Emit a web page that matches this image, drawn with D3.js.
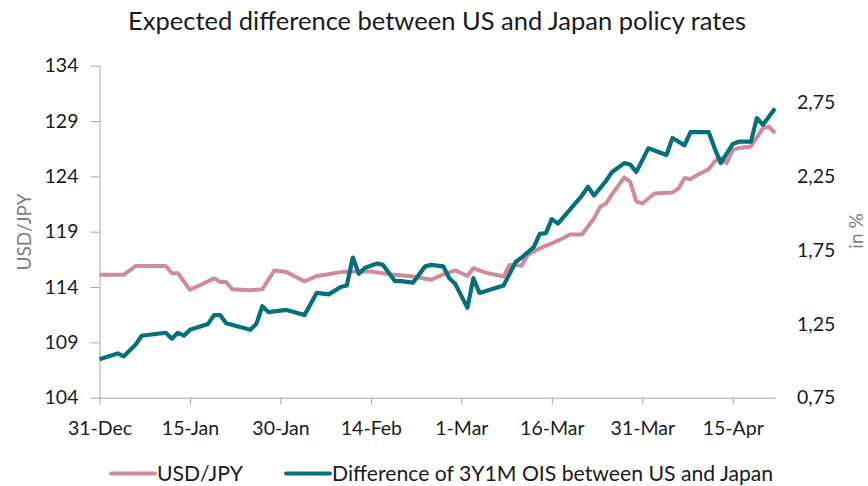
<!DOCTYPE html>
<html>
<head>
<meta charset="utf-8">
<script src="https://cdn.jsdelivr.net/npm/d3@7"></script>
<style>
    body { margin: 0; background: #ffffff; }
    text { font-family: Lato, "Noto Sans", sans-serif; }
</style>
</head>
<body>
<div id="chart"></div>
<script>
// USD/JPY (left axis)
let usdJpyDates = ["2021-12-31", "2022-01-04", "2022-01-06", "2022-01-11", "2022-01-12", "2022-01-13",
    "2022-01-15", "2022-01-17", "2022-01-19", "2022-01-20", "2022-01-21", "2022-01-22", "2022-01-25",
    "2022-01-27", "2022-01-29", "2022-01-31", "2022-02-02", "2022-02-03", "2022-02-05", "2022-02-07",
    "2022-02-09", "2022-02-11", "2022-02-14", "2022-02-16", "2022-02-18", "2022-02-21", "2022-02-24",
    "2022-02-26", "2022-02-28", "2022-03-02", "2022-03-03", "2022-03-05", "2022-03-08", "2022-03-09",
    "2022-03-11", "2022-03-12", "2022-03-14", "2022-03-16", "2022-03-18", "2022-03-19", "2022-03-21",
    "2022-03-23", "2022-03-24", "2022-03-25", "2022-03-26", "2022-03-28", "2022-03-29", "2022-03-30",
    "2022-03-31", "2022-04-02", "2022-04-05", "2022-04-06", "2022-04-07", "2022-04-08", "2022-04-09",
    "2022-04-11", "2022-04-12", "2022-04-13", "2022-04-14", "2022-04-15", "2022-04-16", "2022-04-18",
    "2022-04-20", "2022-04-21", "2022-04-22"]
let usdJpy = [115.1, 115.1, 115.9, 115.9, 115.25, 115.25,
    113.75, 114.25, 114.8, 114.45, 114.45, 113.8, 113.7,
    113.8, 115.5, 115.35, 114.8, 114.5, 115.0, 115.15,
    115.35, 115.4, 115.4, 115.25, 115.1, 114.95, 114.65,
    115.15, 115.5, 115.0, 115.7, 115.3, 114.95, 116.0,
    115.95, 116.9, 117.5, 117.95, 118.45, 118.75, 118.75,
    120.2, 121.25, 121.55, 122.4, 123.9, 123.5, 121.75,
    121.55, 122.45, 122.55, 122.9, 123.85, 123.75, 124.1,
    124.65, 125.35, 125.65, 125.2, 126.4, 126.55, 126.7,
    128.35, 128.5, 127.9]

// Difference of 3Y1M OIS, US minus Japan, in % (right axis)
let oisDates = ["2021-12-31", "2022-01-03", "2022-01-04", "2022-01-05", "2022-01-06", "2022-01-07",
    "2022-01-11", "2022-01-12", "2022-01-13", "2022-01-14", "2022-01-15", "2022-01-18", "2022-01-19",
    "2022-01-20", "2022-01-21", "2022-01-25", "2022-01-26", "2022-01-27", "2022-01-28", "2022-01-31",
    "2022-02-03", "2022-02-05", "2022-02-07", "2022-02-09", "2022-02-10", "2022-02-11", "2022-02-12",
    "2022-02-13", "2022-02-15", "2022-02-16", "2022-02-18", "2022-02-19", "2022-02-21", "2022-02-23",
    "2022-02-24", "2022-02-26", "2022-02-27", "2022-02-28", "2022-03-02", "2022-03-03", "2022-03-04",
    "2022-03-08", "2022-03-10", "2022-03-11", "2022-03-13", "2022-03-14", "2022-03-15", "2022-03-16",
    "2022-03-17", "2022-03-21", "2022-03-22", "2022-03-23", "2022-03-25", "2022-03-26", "2022-03-28",
    "2022-03-29", "2022-03-30", "2022-04-01", "2022-04-04", "2022-04-05", "2022-04-07", "2022-04-08",
    "2022-04-11", "2022-04-12", "2022-04-13", "2022-04-15", "2022-04-16", "2022-04-18", "2022-04-19",
    "2022-04-20", "2022-04-22"]
let oisDiff = [1.01, 1.05, 1.03, 1.07, 1.11, 1.17,
    1.19, 1.15, 1.19, 1.17, 1.21, 1.25, 1.31,
    1.31, 1.255, 1.21, 1.25, 1.37, 1.33, 1.345,
    1.31, 1.46, 1.45, 1.50, 1.51, 1.70, 1.59,
    1.63, 1.66, 1.65, 1.54, 1.54, 1.53, 1.64,
    1.65, 1.64, 1.56, 1.52, 1.36, 1.56, 1.46,
    1.51, 1.67, 1.70, 1.77, 1.86, 1.865, 1.96,
    1.93, 2.12, 2.18, 2.12, 2.22, 2.28, 2.34,
    2.33, 2.28, 2.44, 2.395, 2.51, 2.46, 2.55,
    2.55, 2.44, 2.34, 2.47, 2.485, 2.485, 2.645,
    2.60, 2.71]

let xTickDates = ["2021-12-31", "2022-01-15", "2022-01-30", "2022-02-14", "2022-03-01",
    "2022-03-16", "2022-03-31", "2022-04-15"]
let leftTicks = [104, 109, 114, 119, 124, 129, 134]
let rightTicks = [0.75, 1.25, 1.75, 2.25, 2.75]

let seriesNames = ["USD/JPY", "Difference of 3Y1M OIS between US and Japan"]

let width = 868,
    height = 486

let plot = { left: 99.5, right: 775, top: 65.7, bottom: 397.7 }

let pink = "#cf8a9b",
    teal = "#04707a",
    axisColor = "#a6a6a6",
    labelColor = "#1a1a1a",
    titleColor = "#7f7f7f"

let parseDate = d3.timeParse("%Y-%m-%d")
let fmtDate = d3.timeFormat("%-d-%b")
let commaFmt = d3.formatLocale({ decimal: ",", thousands: ".", grouping: [3], currency: ["", ""] }).format(".2f")

let usdJpyData = usdJpyDates.map(function (d, i) {
    return { date: parseDate(d), value: usdJpy[i] }
})
let oisData = oisDates.map(function (d, i) {
    return { date: parseDate(d), value: oisDiff[i] }
})

let xScale = d3.scaleTime()
    .domain([parseDate("2021-12-31"), parseDate("2022-04-22")])
    .range([plot.left, plot.right])

let yLeft = d3.scaleLinear()
    .domain([104, 134])
    .range([plot.bottom, plot.top])

let yRight = d3.scaleLinear()
    .domain([0.75, 3.0])
    .range([plot.bottom, plot.top])

let svg = d3.select("#chart")
    .append("svg")
    .attr("width", width)
    .attr("height", height)

// title
svg.append("text")
    .attr("x", 437)
    .attr("y", 30)
    .attr("text-anchor", "middle")
    .attr("font-size", 25.5)
    .attr("fill", labelColor)
    .text("Expected difference between US and Japan policy rates")

// x axis
let xAxis = d3.axisBottom(xScale)
    .tickValues(xTickDates.map(parseDate))
    .tickFormat(fmtDate)
    .tickSizeInner(7)
    .tickSizeOuter(0)
    .tickPadding(16)

svg.append("g")
    .attr("transform", "translate(0," + plot.bottom + ")")
    .call(xAxis)

// left axis
let yAxisLeft = d3.axisLeft(yLeft)
    .tickValues(leftTicks)
    .tickSizeInner(9)
    .tickSizeOuter(0)
    .tickPadding(12)

svg.append("g")
    .attr("transform", "translate(" + plot.left + ",0)")
    .call(yAxisLeft)

// right axis, labels only
let yAxisRight = d3.axisRight(yRight)
    .tickValues(rightTicks)
    .tickFormat(commaFmt)
    .tickSize(0)
    .tickPadding(22)

let gyr = svg.append("g")
    .attr("transform", "translate(" + plot.right + ",0)")
    .call(yAxisRight)
gyr.select(".domain").remove()

svg.selectAll(".domain, .tick line")
    .attr("stroke", axisColor)
    .attr("stroke-width", 1)
svg.selectAll(".tick text")
    .attr("font-size", 19.5)
    .attr("font-family", "Lato, sans-serif")
    .attr("fill", labelColor)

// axis titles
svg.append("text")
    .attr("transform", "translate(31,232) rotate(-90)")
    .attr("text-anchor", "middle")
    .attr("font-size", 19)
    .attr("fill", titleColor)
    .text("USD/JPY")

svg.append("text")
    .attr("transform", "translate(863,231) rotate(-90)")
    .attr("text-anchor", "middle")
    .attr("font-size", 19)
    .attr("fill", titleColor)
    .text("in %")

// lines
let lineLeft = d3.line()
    .x(function (d) { return xScale(d.date) })
    .y(function (d) { return yLeft(d.value) })

let lineRight = d3.line()
    .x(function (d) { return xScale(d.date) })
    .y(function (d) { return yRight(d.value) })

svg.append("path")
    .datum(usdJpyData)
    .attr("d", lineLeft)
    .attr("fill", "none")
    .attr("stroke", pink)
    .attr("stroke-width", 4)
    .attr("stroke-linejoin", "round")

svg.append("path")
    .datum(oisData)
    .attr("d", lineRight)
    .attr("fill", "none")
    .attr("stroke", teal)
    .attr("stroke-width", 4.2)
    .attr("stroke-linejoin", "round")

// legend
let legendItems = [
    { name: seriesNames[0], color: pink, x: 110 },
    { name: seriesNames[1], color: teal, x: 285 }
]

let legend = svg.append("g")
    .selectAll("g")
    .data(legendItems)
    .enter().append("g")
    .attr("transform", function (d) { return "translate(" + d.x + ",473.5)" })

legend.append("line")
    .attr("x1", 1)
    .attr("x2", 45)
    .attr("stroke", function (d) { return d.color })
    .attr("stroke-width", 4)
    .attr("stroke-linecap", "round")

legend.append("text")
    .attr("x", 47)
    .attr("y", 7.5)
    .attr("font-size", 21.2)
    .attr("fill", labelColor)
    .text(function (d) { return d.name })
</script>
</body>
</html>
